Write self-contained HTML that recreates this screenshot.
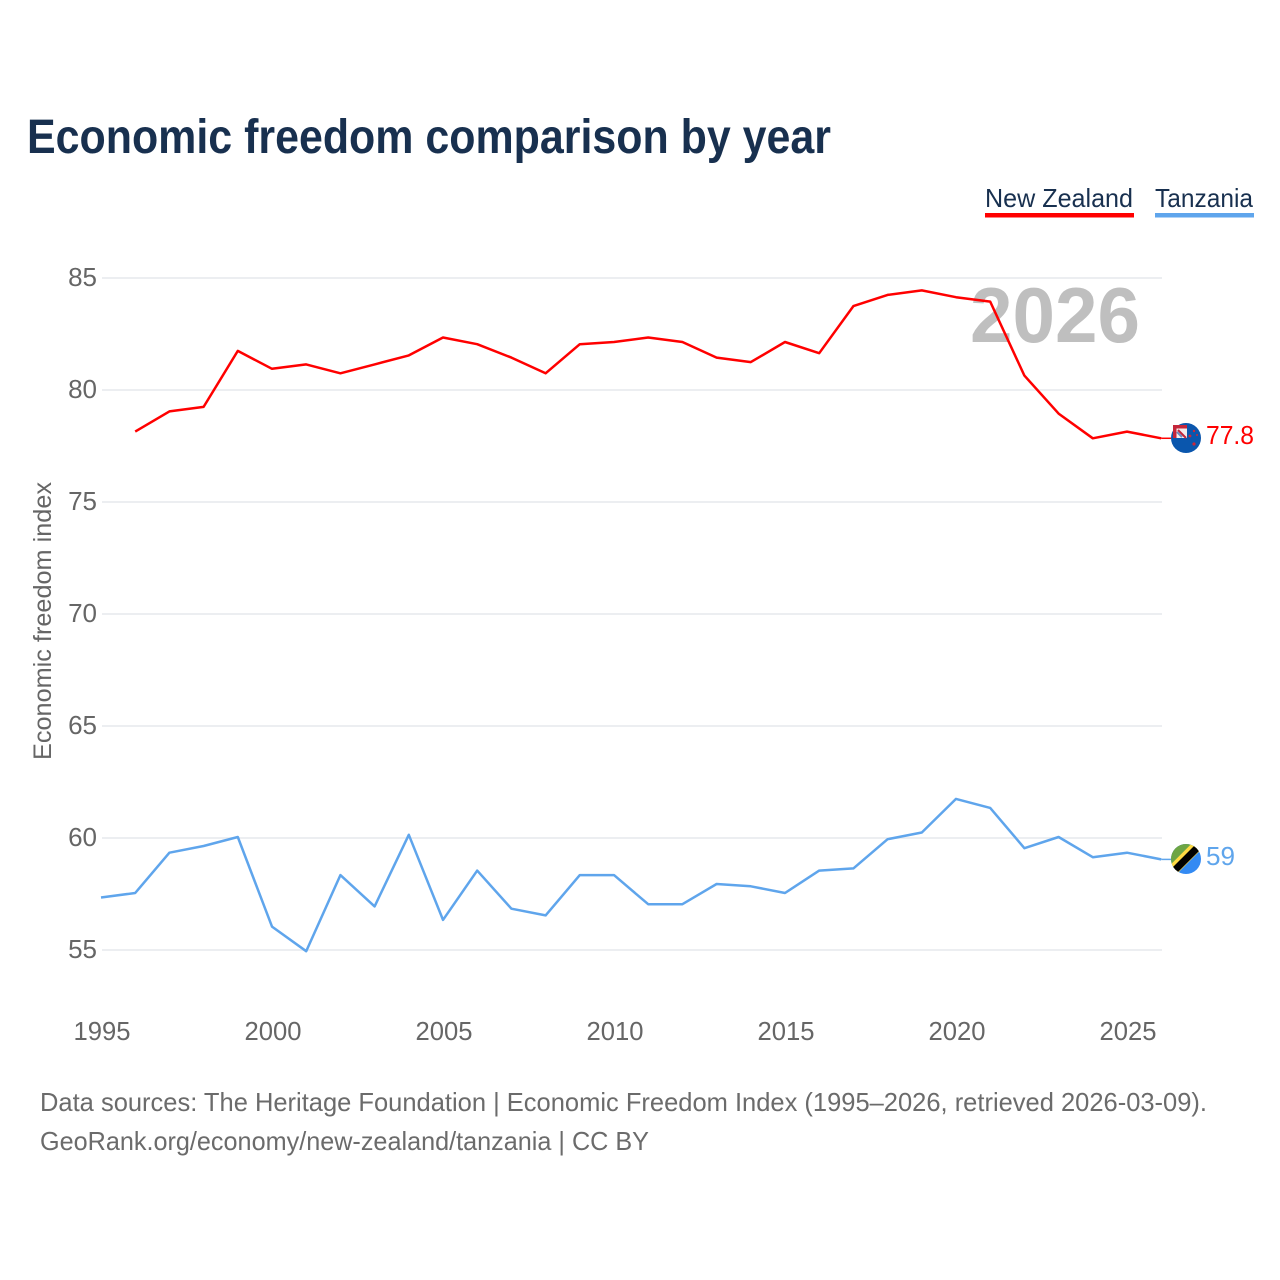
<!DOCTYPE html>
<html lang="en">
<head>
<meta charset="utf-8">
<title>Economic freedom comparison by year</title>
<style>
html,body{margin:0;padding:0;background:#fff;width:1280px;height:1280px;overflow:hidden}
svg{display:block;font-family:"Liberation Sans",sans-serif}
</style>
</head>
<body>
<svg id="chart" xmlns="http://www.w3.org/2000/svg" width="1280" height="1280" viewBox="0 0 1280 1280">
  <defs>
    <clipPath id="nz-clip"><circle cx="1186" cy="438" r="15"/></clipPath>
    <clipPath id="tz-clip"><circle cx="1186" cy="859" r="15"/></clipPath>
  </defs>
  <text x="27" y="153" font-size="48" font-weight="700" fill="#18304f" textLength="804" lengthAdjust="spacingAndGlyphs">Economic freedom comparison by year</text>

  <g>
    <g>
      <text x="985" y="207" font-size="26" fill="#18304f" textLength="148" lengthAdjust="spacingAndGlyphs">New Zealand</text>
      <rect x="985" y="213" width="149" height="4.5" fill="#ff0000"/>
    </g>
    <g>
      <text x="1155" y="207" font-size="26" fill="#18304f" textLength="98" lengthAdjust="spacingAndGlyphs">Tanzania</text>
      <rect x="1155" y="213" width="99" height="4.5" fill="#5fa5ec"/>
    </g>
  </g>

  <g id="grid"></g>
  <g id="y-ticks"></g>
  <g id="x-ticks"></g>

  <text transform="translate(51,760) rotate(-90)" x="0" y="0" font-size="25" fill="#666" textLength="278" lengthAdjust="spacingAndGlyphs">Economic freedom index</text>

  <text x="970" y="342" font-size="78" font-weight="700" fill="#bfbfbf" textLength="170" lengthAdjust="spacingAndGlyphs">2026</text>

  <g id="series" transform="translate(-1,-1)"></g>

  <g>
    <circle cx="1186" cy="438" r="15" fill="#0a56ad"/>
    <rect x="1173" y="425" width="14" height="13" fill="#f4ecec"/>
    <path d="M1173 425h14v3.5h-10.5v9.500h-3.500z" fill="#c4263a"/>
    <path d="M1178 430l8 8" stroke="#c4263a" stroke-width="2"/>
    <path d="M1177 432l5 5" stroke="#6f8cc0" stroke-width="2"/>
    <circle cx="1190" cy="436" r="1.400" fill="#c8283c"/>
    <circle cx="1194" cy="431" r="1.200" fill="#c8283c"/>
    <circle cx="1197" cy="435" r="1" fill="#c8283c"/>
    <circle cx="1194" cy="444" r="1.600" fill="#c8283c"/>
  </g>
  <text id="nz-value" x="1206" y="444" font-size="26" fill="#ff0000" textLength="48" lengthAdjust="spacingAndGlyphs"></text>

  <g clip-path="url(#tz-clip)">
    <rect x="1171" y="844" width="30" height="30" fill="#338af3"/>
    <path d="M1171 844h30L1171 874z" fill="#6da544"/>
    <path d="M1170 873L1200 843" stroke="#ffda44" stroke-width="11"/>
    <path d="M1170 875L1202 843" stroke="#000" stroke-width="7"/>
  </g>
  <text id="tz-value" x="1206" y="865" font-size="26" fill="#5fa5ec" textLength="29" lengthAdjust="spacingAndGlyphs"></text>

  <text x="40" y="1111" font-size="26" fill="#6b6b6b" textLength="1167" lengthAdjust="spacingAndGlyphs">Data sources: The Heritage Foundation | Economic Freedom Index (1995–2026, retrieved 2026-03-09).</text>
  <text x="40" y="1150" font-size="26" fill="#6b6b6b" textLength="609" lengthAdjust="spacingAndGlyphs">GeoRank.org/economy/new-zealand/tanzania | CC BY</text>
</svg>
<script>
const years = [1995,1996,1997,1998,1999,2000,2001,2002,2003,2004,2005,2006,2007,2008,2009,2010,2011,2012,2013,2014,2015,2016,2017,2018,2019,2020,2021,2022,2023,2024,2025,2026];
const newZealand = [null,78.1,79.0,79.2,81.7,80.9,81.1,80.7,81.1,81.5,82.3,82.0,81.4,80.7,82.0,82.1,82.3,82.1,81.4,81.2,82.1,81.6,83.7,84.2,84.4,84.1,83.9,80.6,78.9,77.8,78.1,77.8];
const tanzania = [57.3,57.5,59.3,59.6,60.0,56.0,54.9,58.3,56.9,60.1,56.3,58.5,56.8,56.5,58.3,58.3,57.0,57.0,57.9,57.8,57.5,58.5,58.6,59.9,60.2,61.7,61.3,59.5,60.0,59.1,59.3,59.0];
const yTicks = [55,60,65,70,75,80,85];
const xTicks = [1995,2000,2005,2010,2015,2020,2025];

const NS = 'http://www.w3.org/2000/svg';
const xScale = function (year) { return 102 + (year - 1995) * 34.2; };
const yScale = function (value) { return 950 - (value - 55) * 22.4; };

const gridGroup = document.getElementById('grid');
const yTickGroup = document.getElementById('y-ticks');
const xTickGroup = document.getElementById('x-ticks');
const seriesGroup = document.getElementById('series');

yTicks.forEach(function (tick) {
  const line = document.createElementNS(NS, 'line');
  
  
  line.setAttribute('x1', 102);
  line.setAttribute('x2', 1162);
  line.setAttribute('y1', yScale(tick));
  line.setAttribute('y2', yScale(tick));
  line.setAttribute('stroke', '#eceef1');
  line.setAttribute('stroke-width', '2');
  gridGroup.appendChild(line);

  const label = document.createElementNS(NS, 'text');
  
  
  label.setAttribute('x', 97);
  label.setAttribute('y', yScale(tick) + 8);
  label.setAttribute('text-anchor', 'end');
  label.setAttribute('font-size', '26');
  label.setAttribute('fill', '#666');
  label.textContent = tick;
  yTickGroup.appendChild(label);
});

xTicks.forEach(function (tick) {
  const label = document.createElementNS(NS, 'text');
  
  
  label.setAttribute('x', xScale(tick));
  label.setAttribute('y', 1040);
  label.setAttribute('text-anchor', 'middle');
  label.setAttribute('font-size', '26');
  label.setAttribute('fill', '#666');
  label.setAttribute('textLength', '57');
  label.setAttribute('lengthAdjust', 'spacingAndGlyphs');
  label.textContent = tick;
  xTickGroup.appendChild(label);
});

function linePoints(values) {
  const points = [];
  values.forEach(function (value, i) {
    if (value !== null) {
      points.push(xScale(years[i]).toFixed(1) + ',' + yScale(value).toFixed(1));
    }
  });
  return points.join(' ');
}

const nzLine = document.createElementNS(NS, 'polyline');


nzLine.setAttribute('points', linePoints(newZealand));
nzLine.setAttribute('fill', 'none');
nzLine.setAttribute('stroke', '#ff0000');
nzLine.setAttribute('stroke-width', '2.5');
nzLine.setAttribute('stroke-linejoin', 'round');
seriesGroup.appendChild(nzLine);

const tzLine = document.createElementNS(NS, 'polyline');


tzLine.setAttribute('points', linePoints(tanzania));
tzLine.setAttribute('fill', 'none');
tzLine.setAttribute('stroke', '#5fa5ec');
tzLine.setAttribute('stroke-width', '2.5');
tzLine.setAttribute('stroke-linejoin', 'round');
seriesGroup.appendChild(tzLine);

const nzLast = newZealand[newZealand.length - 1];
const tzLast = tanzania[tanzania.length - 1];

const nzConnector = document.createElementNS(NS, 'line');


nzConnector.setAttribute('x1', xScale(2026));
nzConnector.setAttribute('x2', 1172);
nzConnector.setAttribute('y1', yScale(nzLast));
nzConnector.setAttribute('y2', yScale(nzLast));
nzConnector.setAttribute('stroke', '#ff0000');
nzConnector.setAttribute('stroke-width', '1.5');
seriesGroup.appendChild(nzConnector);

const tzConnector = document.createElementNS(NS, 'line');


tzConnector.setAttribute('x1', xScale(2026));
tzConnector.setAttribute('x2', 1172);
tzConnector.setAttribute('y1', yScale(tzLast));
tzConnector.setAttribute('y2', yScale(tzLast));
tzConnector.setAttribute('stroke', '#5fa5ec');
tzConnector.setAttribute('stroke-width', '1.5');
seriesGroup.appendChild(tzConnector);

document.getElementById('nz-value').textContent = nzLast;
document.getElementById('tz-value').textContent = tzLast;
</script>
</body>
</html>
